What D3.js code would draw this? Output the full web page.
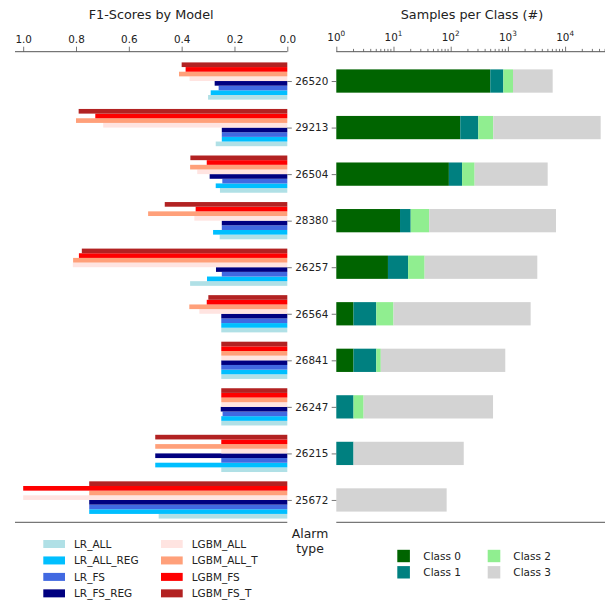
<!DOCTYPE html>
<html><head><meta charset="utf-8">
<script src="https://cdn.jsdelivr.net/npm/d3@7"></script>
<style>
body{margin:0;background:#fff;}
svg{display:block;font-family:"DejaVu Sans",sans-serif;}
</style></head>
<body><svg id="c" width="605" height="603"></svg>
<script>
const alarms = ['26520','29213','26504','28380','26257','26564','26841','26247','26215','25672'];
const models = ['LR_ALL','LR_ALL_REG','LR_FS','LR_FS_REG','LGBM_ALL','LGBM_ALL_T','LGBM_FS','LGBM_FS_T'];
const modelColors = ['#b0e0e6','#00bfff','#4169e1','#000080','#ffe4e1','#ffa07a','#ff0000','#b22222'];
const LR_ALL     = [0.30, 0.271, 0.255, 0.256, 0.368, 0.25, 0.25, 0.25, 0.25, 0.487];
const LR_ALL_REG = [0.29, 0.248, 0.271, 0.281, 0.304, 0.25, 0.25, 0.25, 0.50, 0.75];
const LR_FS      = [0.26, 0.248, 0.246, 0.248, 0.248, 0.25, 0.25, 0.245, 0.25, 0.75];
const LR_FS_REG  = [0.275, 0.248, 0.294, 0.248, 0.27, 0.25, 0.25, 0.252, 0.50, 0.75];
const LGBM_ALL   = [0.37, 0.697, 0.341, 0.352, 0.812, 0.333, 0.25, 0.25, 0.25, 1.0];
const LGBM_ALL_T = [0.41, 0.80, 0.368, 0.527, 0.811, 0.371, 0.25, 0.25, 0.50, 0.75];
const LGBM_FS    = [0.385, 0.727, 0.305, 0.347, 0.789, 0.305, 0.25, 0.25, 0.25, 1.0];
const LGBM_FS_T  = [0.40, 0.79, 0.367, 0.464, 0.778, 0.299, 0.25, 0.25, 0.50, 0.75];
const scores = [LR_ALL, LR_ALL_REG, LR_FS, LR_FS_REG, LGBM_ALL, LGBM_ALL_T, LGBM_FS, LGBM_FS_T];

const classes = ['Class 0','Class 1','Class 2','Class 3'];
const classColors = ['#006400','#008080','#90ee90','#d3d3d3'];
const class0 = [492, 147, 93, 13, 8, 2, 2, 0, 0, 0];
const class1 = [340, 157, 65, 7, 10, 3, 3, 2, 2, 0];
const class2 = [396, 252, 104, 22, 17, 5, 1, 1, 0, 0];
const class3 = [4840, 41340, 4700, 6890, 3230, 2490, 894, 547, 167, 85];
const counts = [class0, class1, class2, class3];

const f1Ticks = [1.0, 0.8, 0.6, 0.4, 0.2, 0.0];
const logTicks = [1, 10, 100, 1000, 10000];

const svg = d3.select('#c');
const FS = 10.4, TXT = '#222', SPINE = '#555';

const y = d3.scaleLinear().domain([-0.63, 9.48]).range([51.7, 522.3]);
const xL = d3.scaleLinear().domain([0, 1.031]).range([287.3, 15]);
const xR = d3.scaleLog().domain([1, Math.pow(10, 4.745)]).range([336.3, 607.7]);

// ---- left panel bars
const gL = svg.append('g');
scores.forEach((vals, j) => {
  gL.selectAll(null).data(vals).enter().append('rect')
    .attr('x', d => xL(d))
    .attr('width', d => xL(0) - xL(d))
    .attr('y', (d, i) => y(i + 0.3 - 0.1 * j))
    .attr('height', y(0.1) - y(0))
    .attr('fill', modelColors[j]);
});

// ---- right panel stacked bars
const gR = svg.append('g');
const cum = alarms.map(() => 0);
counts.forEach((vals, k) => {
  const starts = cum.slice();
  vals.forEach((v, i) => cum[i] += v);
  gR.selectAll(null).data(vals).enter().append('rect')
    .attr('x', (d, i) => xR(Math.max(1, starts[i])))
    .attr('width', (d, i) => Math.max(0, xR(Math.max(1, starts[i] + d)) - xR(Math.max(1, starts[i]))))
    .attr('y', (d, i) => y(i - 0.25))
    .attr('height', y(0.5) - y(0))
    .attr('fill', classColors[k]);
});

// ---- axes
const topAxisL = d3.axisTop(xL).tickValues(f1Ticks).tickFormat(d3.format('.1f')).tickSize(5).tickPadding(3.5);
const aL = svg.append('g').attr('transform', `translate(0,${y.range()[0]})`).call(topAxisL);
aL.select('.domain').attr('d', `M${xL.range()[1]},0H${xL.range()[0]}`);

const topAxisR = d3.axisTop(xR).tickValues(logTicks).tickFormat('').tickSize(5);
const aR = svg.append('g').attr('transform', `translate(0,${y.range()[0]})`).call(topAxisR);
aR.select('.domain').attr('d', `M${xR.range()[0]},0H${xR.range()[1]}`);
const minor = [];
for (let e = 0; e < 5; e++) for (let m = 2; m <= 9; m++) { const v = m * Math.pow(10, e); if (v < xR.domain()[1]) minor.push(v); }
aR.selectAll('.minor').data(minor).enter().append('line').attr('class','minor')
  .attr('x1', d => xR(d)).attr('x2', d => xR(d)).attr('y1', 0).attr('y2', -2.8);
aR.selectAll('.lbl').data(logTicks).enter().append('text').attr('class','lbl')
  .attr('x', d => xR(d)).attr('y', -11.2).attr('text-anchor','middle')
  .each(function(d){
    const t = d3.select(this);
    t.append('tspan').text('10');
    t.append('tspan').attr('dy', -4.5).attr('font-size', FS * 0.7).text(Math.round(Math.log10(d)));
  });

[aL, aR].forEach(a => {
  a.selectAll('line').attr('stroke', SPINE).attr('stroke-width', 0.8);
  a.select('.domain').attr('stroke', SPINE).attr('stroke-width', 1);
  a.selectAll('text').attr('fill', TXT).attr('font-size', FS).attr('font-family', '"DejaVu Sans",sans-serif');
});

// bottom spines
svg.append('line').attr('x1', xL.range()[1]).attr('x2', xL.range()[0]).attr('y1', y.range()[1]).attr('y2', y.range()[1]).attr('stroke', SPINE).attr('stroke-width', 1);
svg.append('line').attr('x1', xR.range()[0]).attr('x2', xR.range()[1]).attr('y1', y.range()[1]).attr('y2', y.range()[1]).attr('stroke', SPINE).attr('stroke-width', 1);

// y ticks & labels
const yAxisL = d3.axisRight(y).tickValues(d3.range(alarms.length)).tickFormat('').tickSize(4.5);
const yl = svg.append('g').attr('transform', `translate(${xL(0)},0)`).call(yAxisL);
yl.select('.domain').remove();
const yAxisR = d3.axisLeft(y).tickValues(d3.range(alarms.length)).tickFormat(i => alarms[i]).tickSize(4.6).tickPadding(3.4);
const yr = svg.append('g').attr('transform', `translate(${xR.range()[0]},0)`).call(yAxisR);
yr.select('.domain').remove();
[yl, yr].forEach(a => {
  a.selectAll('line').attr('stroke', SPINE).attr('stroke-width', 0.8);
  a.selectAll('text').attr('fill', TXT).attr('font-size', FS).attr('font-family', '"DejaVu Sans",sans-serif');
});

// titles
svg.append('text').attr('x', (xL.range()[0] + xL.range()[1]) / 2).attr('y', 18.7).attr('text-anchor','middle')
  .attr('font-size', 12.8).attr('fill', TXT).text('F1-Scores by Model');
svg.append('text').attr('x', (xR.range()[0] + xR.range()[1]) / 2).attr('y', 18.7).attr('text-anchor','middle')
  .attr('font-size', 12.8).attr('fill', TXT).text('Samples per Class (#)');
svg.append('text').attr('x', 310).attr('y', 538.3).attr('text-anchor','middle').attr('font-size', 12.4).attr('fill', TXT).text('Alarm');
svg.append('text').attr('x', 310).attr('y', 552.6).attr('text-anchor','middle').attr('font-size', 12.4).attr('fill', TXT).text('type');

// left legend
const legL = svg.append('g');
models.forEach((m, j) => {
  const col = j < 4 ? 0 : 1, row = j % 4;
  const px = col === 0 ? 43.3 : 161, tx = col === 0 ? 74 : 191.7;
  const cy = 544 + row * 16.45;
  legL.append('rect').attr('x', px).attr('y', cy - 4).attr('width', 21.7).attr('height', 8).attr('fill', modelColors[j]);
  legL.append('text').attr('x', tx).attr('y', cy + 3.8).attr('font-size', 10.5).attr('fill', TXT).text(m);
});

// right legend
const legR = svg.append('g');
classes.forEach((c, k) => {
  const col = k < 2 ? 0 : 1, row = k % 2;
  const px = col === 0 ? 397.3 : 487.7, tx = col === 0 ? 423.3 : 513.3;
  const cy = 556 + row * 16.3;
  legR.append('rect').attr('x', px).attr('y', cy - 6.2).attr('width', 12.6).attr('height', 12.4).attr('fill', classColors[k]);
  legR.append('text').attr('x', tx).attr('y', cy + 3.8).attr('font-size', 10.5).attr('fill', TXT).text(c);
});
</script></body></html>
